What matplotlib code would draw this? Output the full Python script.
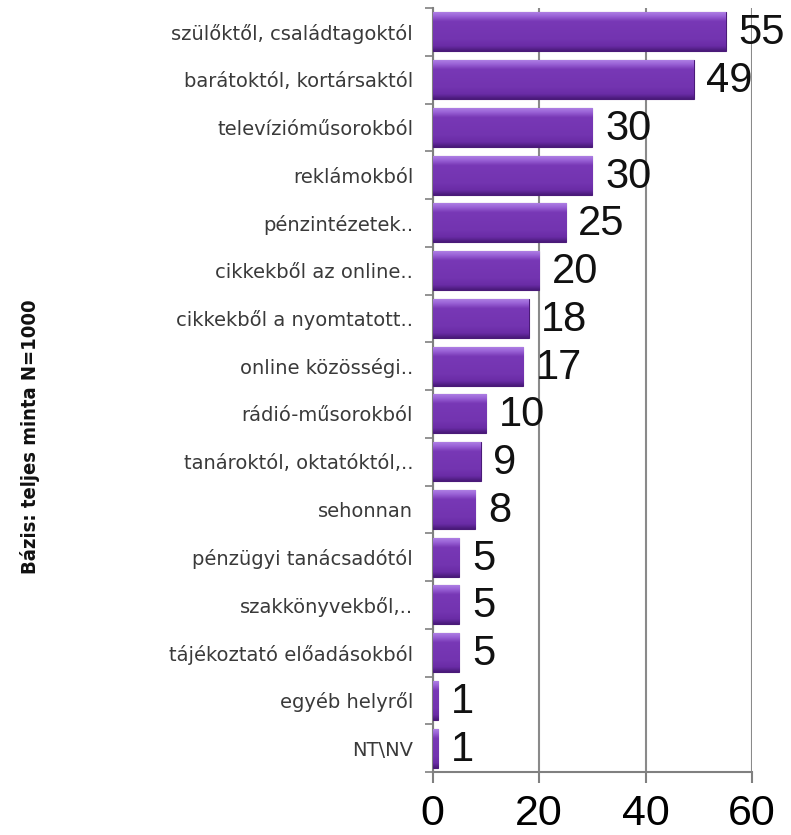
import numpy as np
import matplotlib.pyplot as plt
from matplotlib.colors import LinearSegmentedColormap

categories = ['szülőktől, családtagoktól', 'barátoktól, kortársaktól', 'televízióműsorokból',
              'reklámokból', 'pénzintézetek..', 'cikkekből az online..', 'cikkekből a nyomtatott..',
              'online közösségi..', 'rádió-műsorokból', 'tanároktól, oktatóktól,..', 'sehonnan',
              'pénzügyi tanácsadótól', 'szakkönyvekből,..', 'tájékoztató előadásokból',
              'egyéb helyről', 'NT\\NV']
values = [55, 49, 30, 30, 25, 20, 18, 17, 10, 9, 8, 5, 5, 5, 1, 1]
xticks = [0, 20, 40, 60]
base_label = 'Bázis: teljes minta N=1000'

fig = plt.figure(figsize=(7.91, 8.35), dpi=100)
ax = fig.add_axes([0.547, 0.0754, 0.404, 0.915])

y = np.arange(len(categories))[::-1]
bars = ax.barh(y, values, height=0.82, color='#7233ad', edgecolor='#4a1a78', linewidth=0.8, zorder=3)

# gradient fill to mimic the 3D bar look (dark bottom edge, flat body, light top)
cmap = LinearSegmentedColormap.from_list(
    'bar', [(0, '#4a1a7a'), (0.12, '#6a2ca6'), (0.3, '#7334b0'), (0.75, '#7838b6'),
            (0.88, '#9a62d6'), (1, '#b184e6')])
grad = np.linspace(0, 1, 64).reshape(-1, 1)
for b in bars:
    x0, y0 = b.get_x(), b.get_y()
    w, h = b.get_width(), b.get_height()
    im = ax.imshow(grad, extent=[x0, x0 + w, y0, y0 + h], origin='lower', cmap=cmap,
                   aspect='auto', zorder=3.5)
    im.set_clip_path(b)

for yi, v in zip(y, values):
    ax.annotate(str(v), (v, yi), xytext=(9, -1), textcoords='offset points',
                ha='left', va='center', fontsize=30, family='Liberation Sans', color='#111111', zorder=5)

ax.set_xlim(0, 60)
ax.set_ylim(-0.5, len(categories) - 0.5)
ax.set_xticks(xticks)
ax.set_xticklabels([str(t) for t in xticks], fontsize=31, family='Liberation Sans')
ax.tick_params(axis='x', length=8, width=1.5, color='#808080', pad=8)
ax.set_yticks(y)
ax.set_yticklabels(categories, fontsize=14, color='#3a3a3a')
ax.set_yticks(np.arange(-0.5, len(categories), 1), minor=True)
ax.tick_params(axis='y', which='major', length=0, pad=14)
ax.tick_params(axis='y', which='minor', length=6, width=1.2, color='#808080')

ax.grid(axis='x', color='#8a8a8a', linewidth=1.5, zorder=0)
for s in ['top', 'right']:
    ax.spines[s].set_visible(False)
for s in ['left', 'bottom']:
    ax.spines[s].set_color('#808080')
    ax.spines[s].set_linewidth(1.5)

fig.text(0.038, 0.477, base_label, rotation=90, ha='center', va='center',
         fontsize=14.5, fontweight='bold', fontstretch='condensed', color='#111111')

fig.savefig('out.png', dpi=100)
